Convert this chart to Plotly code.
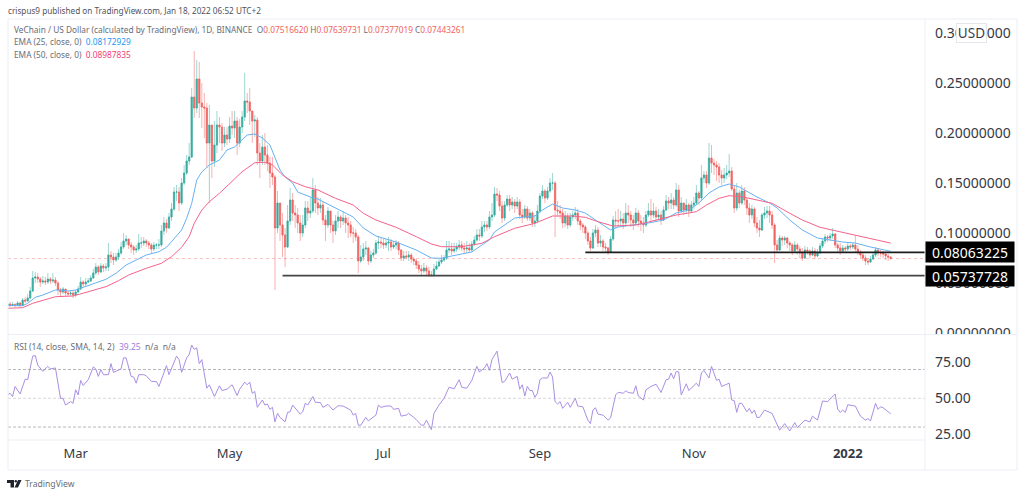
import numpy as np
import pandas as pd
import plotly.graph_objects as go
from plotly.subplots import make_subplots

# daily candles, Feb 2 2021 onwards, in thousandths of a USD
close_m = [
    29, 28, 28.5, 27.5, 30, 27.5, 33, 32, 35, 42,
    55, 56, 54, 51, 52, 51, 54, 52, 53, 50,
    43, 41, 44, 40, 39, 40, 38, 41, 44, 51,
    49, 51, 52, 55, 60, 66, 61, 67, 65, 66,
    78, 76, 73, 76, 80, 86, 92, 94, 88, 86,
    83, 84, 90, 90, 92, 90, 88, 84, 88, 88,
    88, 102, 110, 105, 116, 124, 141, 141, 130, 150,
    160, 172, 176, 236, 225, 254, 230, 226, 225, 190,
    208, 172, 188, 208, 206, 190, 198, 194, 207, 205,
    212, 190, 206, 216, 232, 231, 222, 212, 213, 180,
    172, 186, 178, 170, 160, 156, 105, 130, 108, 98,
    86, 112, 133, 120, 118, 110, 100, 108, 125, 120,
    122, 143, 130, 125, 128, 113, 108, 122, 108, 102,
    112, 116, 112, 115, 110, 108, 100, 100, 96, 72,
    76, 84, 85, 72, 78, 80, 90, 91, 90, 88,
    90, 91, 86, 88, 90, 83, 75, 77, 76, 78,
    74, 72, 68, 64, 62, 65, 62, 58, 58, 64,
    67, 71, 73, 75, 83, 84, 82, 84, 86, 88,
    85, 84, 85, 83, 89, 93, 98, 97, 106, 108,
    106, 116, 118, 139, 138, 127, 115, 128, 134, 128,
    131, 127, 131, 118, 116, 124, 115, 120, 110, 112,
    122, 137, 142, 135, 142, 150, 150, 123, 122, 120,
    110, 117, 108, 116, 118, 120, 112, 108, 106, 100,
    92, 85, 100, 103, 90, 92, 86, 85, 81, 94,
    113, 112, 112, 114, 110, 120, 118, 113, 110, 120,
    112, 110, 108, 118, 122, 118, 122, 116, 118, 113,
    123, 132, 130, 133, 128, 143, 122, 130, 123, 128,
    122, 128, 130, 140, 135, 155, 158, 150, 175, 170,
    168, 166, 158, 155, 158, 160, 162, 144, 125, 140,
    130, 142, 133, 125, 118, 124, 110, 105, 103, 118,
    120, 122, 118, 108, 88, 83, 95, 93, 95, 90,
    88, 82, 88, 84, 80, 75, 83, 82, 78, 82,
    77, 80, 87, 92, 96, 95, 97, 99, 88, 85,
    82, 85, 84, 87, 86, 88, 84, 81, 78, 75,
    72, 71, 74, 78, 83, 80, 80, 79, 77, 76,
    74.4,
]
high_m = [
    33, 31, 31, 30, 32, 31, 35, 36, 39, 46,
    62, 61, 60, 56, 57, 56, 60, 56, 60, 56,
    52, 45, 46, 44, 42, 42, 42, 43, 47, 56,
    53, 55, 55, 58, 64, 70, 68, 70, 69, 70,
    90, 82, 80, 80, 84, 91, 100, 98, 94, 91,
    88, 88, 99, 96, 96, 94, 92, 90, 91, 90,
    94, 108, 116, 114, 120, 130, 146, 148, 146, 155,
    168, 178, 190, 245, 282, 273, 271, 250, 240, 230,
    228, 205, 212, 222, 216, 210, 206, 206, 216, 222,
    222, 216, 214, 222, 260, 240, 245, 222, 218, 216,
    190, 198, 200, 188, 176, 176, 158, 142, 130, 120,
    105, 128, 145, 140, 128, 125, 118, 118, 132, 132,
    135, 155, 148, 136, 135, 132, 118, 126, 118, 112,
    118, 122, 118, 122, 118, 116, 112, 106, 104, 98,
    88, 90, 92, 86, 82, 84, 93, 97, 95, 94,
    94, 96, 94, 92, 93, 92, 84, 82, 82, 82,
    80, 76, 74, 72, 68, 70, 68, 66, 62, 69,
    72, 74, 78, 78, 92, 92, 90, 90, 90, 93,
    92, 90, 92, 90, 92, 97, 104, 104, 112, 112,
    112, 122, 130, 146, 145, 142, 132, 132, 138, 138,
    136, 134, 136, 134, 124, 128, 127, 124, 122, 118,
    128, 140, 148, 144, 146, 155, 160, 152, 132, 128,
    124, 122, 120, 120, 122, 126, 124, 114, 110, 108,
    102, 96, 104, 108, 106, 98, 94, 90, 86, 97,
    117, 122, 124, 122, 120, 130, 128, 122, 118, 125,
    123, 118, 116, 122, 130, 134, 130, 126, 124, 122,
    127, 138, 136, 140, 136, 150, 148, 136, 130, 134,
    130, 132, 136, 148, 142, 168, 162, 162, 190, 188,
    174, 172, 170, 163, 165, 168, 179, 166, 148, 150,
    143, 148, 146, 135, 130, 128, 126, 116, 113, 120,
    126, 127, 127, 122, 110, 93, 98, 97, 97, 96,
    92, 90, 92, 90, 87, 85, 87, 86, 84, 86,
    85, 84, 90, 95, 99, 98, 100, 105, 100, 90,
    90, 88, 87, 90, 89, 90, 98, 88, 83, 81,
    78, 75, 77, 81, 86, 85, 83, 82, 80, 79,
    76.4,
]
low_m = [
    26, 26, 27, 26, 27, 26, 27, 30, 31, 34,
    41, 50, 50, 46, 49, 48, 49, 49, 50, 47,
    38, 37, 39, 37, 37, 37, 35, 36, 40, 43,
    46, 47, 50, 51, 54, 58, 58, 60, 61, 62,
    62, 70, 68, 71, 73, 78, 84, 88, 84, 80,
    78, 80, 82, 85, 87, 86, 84, 80, 82, 84,
    84, 86, 98, 100, 104, 112, 122, 132, 122, 128,
    148, 158, 168, 175, 215, 220, 215, 205, 195, 165,
    130, 155, 166, 180, 190, 182, 186, 188, 190, 198,
    195, 178, 186, 200, 212, 220, 208, 190, 196, 168,
    155, 168, 168, 162, 145, 148, 43, 100, 92, 76,
    66, 85, 108, 112, 105, 100, 92, 96, 105, 112,
    115, 120, 120, 118, 120, 108, 92, 105, 100, 90,
    98, 105, 105, 108, 100, 95, 96, 90, 92, 60,
    70, 72, 78, 68, 70, 75, 78, 84, 85, 84,
    85, 82, 82, 84, 84, 78, 72, 72, 74, 72,
    70, 68, 64, 60, 58, 60, 58, 56, 56, 56,
    63, 66, 69, 71, 73, 80, 78, 80, 81, 83,
    82, 80, 80, 80, 81, 87, 91, 92, 95, 101,
    102, 104, 112, 116, 132, 122, 110, 112, 126, 122,
    124, 120, 124, 114, 110, 114, 112, 112, 106, 106,
    110, 120, 134, 130, 133, 140, 143, 96, 116, 114,
    105, 106, 104, 106, 112, 114, 108, 103, 100, 94,
    88, 82, 84, 96, 86, 86, 82, 80, 78, 80,
    92, 105, 106, 108, 104, 108, 110, 106, 103, 108,
    106, 102, 100, 106, 116, 112, 115, 112, 113, 108,
    112, 122, 124, 124, 124, 126, 116, 120, 118, 120,
    116, 120, 124, 128, 128, 132, 150, 145, 148, 160,
    158, 152, 150, 148, 150, 154, 156, 142, 120, 122,
    125, 128, 128, 118, 110, 114, 106, 100, 96, 102,
    114, 115, 110, 104, 70, 80, 82, 87, 88, 85,
    82, 78, 80, 78, 75, 72, 74, 78, 75, 77,
    74, 76, 79, 85, 89, 91, 92, 94, 85, 80,
    78, 80, 80, 82, 83, 84, 80, 78, 75, 72,
    68, 68, 70, 73, 76, 77, 76, 75, 73, 72,
    73.8,
]

# moving averages, read at the bends only (day number, thousandths of a USD)
ema25_days = [0, 6, 8, 11, 14, 16, 19, 22, 24, 27, 30, 33, 39, 43, 47, 51, 55, 60, 63, 65, 69, 71, 73, 75, 77, 80,
              84, 87, 90, 92, 95, 98, 101, 104, 106, 108, 110, 113, 115, 118, 121, 123, 129, 133, 137, 141, 146,
              154, 162, 168, 172, 176, 184, 188, 191, 193, 197, 201, 209, 212, 216, 220, 225, 229, 233, 237, 239,
              242, 249, 254, 260, 265, 270, 274, 278, 282, 286, 290, 297, 302, 305, 310, 315, 321, 326, 331, 336,
              342, 350]
ema25_m = [27.5, 27.3, 29.7, 35.7, 38, 40.3, 43, 43, 42, 43, 45.7, 49, 53.7, 59.7, 68, 73, 78, 81.3, 85.7, 91.3,
           103, 114.7, 129.7, 153, 161, 168, 173, 183, 186, 191, 198, 199, 195, 188, 176, 163, 156, 150, 141, 138,
           135, 134, 126, 121, 116, 105, 97, 91, 83, 75, 74.7, 77, 81, 88, 93, 101, 108, 115, 117, 123, 129, 125,
           123, 120, 113, 106, 103, 106, 108, 110, 113, 120, 123, 130, 140, 146, 149, 146, 136, 130, 125, 113,
           103, 95, 93, 91, 90, 86, 81.7]
ema50_days = [0, 6, 10, 14, 19, 26, 32, 39, 44, 48, 55, 61, 65, 69, 72, 74, 77, 80, 84, 89, 93, 98, 102, 105, 109,
              113, 118, 123, 130, 137, 141, 146, 154, 162, 168, 172, 180, 188, 193, 201, 209, 216, 224, 229, 234,
              240, 249, 254, 260, 265, 273, 277, 282, 286, 291, 298, 303, 310, 315, 322, 330, 336, 344, 350]
ema50_m = [24.7, 25.3, 29.7, 32.3, 36.3, 37, 41.3, 46.3, 52.3, 58, 64.7, 69.7, 76.3, 85.7, 96.3, 109.7, 123, 131.3,
           139.7, 151.3, 161.3, 170.3, 170.7, 168, 158, 151.3, 146.3, 143, 134.7, 128, 119.7, 113, 105.7, 96.3, 89,
           86.3, 86.3, 89.7, 96.3, 104.7, 109.7, 117, 117, 115.7, 111.3, 107, 108, 111, 114.7, 118, 121.3, 128,
           134.7, 137.3, 136.3, 132.3, 129.7, 119.7, 113, 105.7, 101.3, 98, 93, 89.9]

rsi_days = [0, 1, 2, 3, 5, 7, 8, 10, 11, 12, 14, 16, 17, 19, 21, 22, 23, 25, 26, 27, 28, 29, 30, 32, 34, 35, 36, 37,
            38, 40, 41, 42, 45, 46, 47, 49, 50, 51, 52, 54, 55, 57, 59, 60, 63, 64, 67, 68, 69, 71, 72, 73, 74, 75,
            76, 77, 79, 80, 82, 84, 85, 87, 89, 91, 92, 94, 95, 96, 97, 98, 99, 101, 102, 103, 104, 105, 106, 107,
            108, 110, 111, 112, 113, 116, 117, 118, 119, 121, 122, 124, 125, 127, 129, 131, 133, 135, 136, 137,
            138, 139, 140, 142, 143, 146, 147, 148, 150, 152, 153, 155, 156, 158, 159, 161, 162, 164, 165, 166,
            168, 169, 171, 173, 175, 177, 179, 180, 182, 184, 186, 187, 189, 190, 191, 192, 194, 196, 197, 199,
            200, 202, 203, 204, 205, 206, 207, 208, 209, 210, 211, 212, 214, 215, 216, 217, 218, 219, 220, 222,
            223, 225, 226, 228, 230, 231, 232, 233, 234, 236, 238, 239, 241, 242, 244, 245, 246, 248, 249, 250,
            252, 253, 255, 257, 259, 261, 262, 263, 264, 265, 266, 267, 269, 270, 273, 274, 275, 276, 278, 279,
            281, 282, 283, 286, 287, 288, 289, 290, 291, 293, 294, 295, 296, 297, 298, 300, 303, 306, 307, 308,
            310, 312, 313, 316, 318, 319, 321, 323, 325, 328, 329, 330, 331, 332, 333, 336, 338, 340, 341, 342,
            344, 345, 346, 347, 350]
rsi_vals = [52.3, 53.5, 51.2, 58.2, 53, 63.3, 62.9, 79.3, 79.7, 73, 68.7, 72.2, 70.4, 71.1, 50, 50, 45.3, 47.7, 46.5,
            55.9, 52.3, 62.4, 58.9, 62.9, 71.8, 70.4, 65.2, 69.9, 66.4, 66.4, 74.1, 68, 70.4, 78.1, 78.1, 65.2, 64.8,
            60.5, 66.4, 66.4, 65.7, 61.7, 61.7, 58.2, 72.7, 66.4, 79.3, 76.9, 68, 78.1, 80.4, 87, 84, 85.1, 74.1,
            76.9, 57, 59.4, 51.2, 58.7, 55.4, 56.3, 59.4, 51.9, 56.3, 61.2, 59.4, 61.2, 53.5, 54.7, 43.7, 48.8, 45.3,
            46, 42.3, 43.7, 33.6, 39.5, 36.7, 33.6, 40.2, 40.6, 45.3, 39, 40.6, 46.5, 45.3, 51.2, 47.2, 47, 43.7,
            45.8, 41.8, 44.8, 44.6, 43, 41.8, 38.3, 39.5, 31.3, 31.3, 36.7, 34.3, 38.3, 45.3, 43.7, 44.6, 44.6, 42.3,
            43, 37.6, 38.3, 39.5, 36.7, 35.2, 31.3, 31.3, 34.8, 28.2, 39.5, 45.3, 50, 57.7, 56.6, 62.9, 57.7, 57,
            62.4, 72.2, 68.3, 71.1, 74.1, 69.4, 76.9, 82.8, 61, 61.7, 67.6, 63.3, 65.2, 56.3, 59.4, 51.6, 58.2, 55.4,
            55.4, 50.7, 53.5, 62.9, 64.1, 64.1, 68.3, 64.8, 47.7, 46, 47.7, 43, 47.2, 43.7, 50, 44.6, 44.1, 34.8,
            32.4, 41.8, 43.4, 39, 38.3, 34.8, 36.4, 52.3, 54.2, 53.5, 55.2, 54, 53.5, 58.7, 51.6, 48.8, 55.9, 58.2,
            59.8, 54, 62.9, 63.3, 67.6, 63.6, 68.7, 68.3, 52.3, 60.1, 55.4, 60.5, 58.2, 67.6, 69.4, 64.1, 72.2, 62.4,
            63.3, 58.2, 60.5, 48.8, 48.4, 40.2, 46.5, 46.5, 40.6, 43, 39.5, 41.8, 36.7, 36.7, 41.8, 39.5, 27.8, 30.1,
            32.4, 27.3, 33.1, 29.6, 34.8, 33.6, 37.6, 34.8, 48.1, 47.7, 53, 42.5, 40.2, 41.8, 40.2, 45.5, 44.6, 37.6,
            34.8, 35.9, 34.3, 46.5, 42.3, 44.1, 43.4, 39.25]

price_ticks = [0, 0.05, 0.10, 0.15, 0.20, 0.25, 0.30]
rsi_ticks = [25, 50, 75]
rsi_levels = [70, 50, 30]
month_ticks = ["2021-03-01", "2021-05-01", "2021-07-01", "2021-09-01", "2021-11-01", "2022-01-01"]
month_labels = ["Mar", "May", "Jul", "Sep", "Nov", "<b>2022</b>"]
support_levels = [0.08063225, 0.05737728]
support_starts = ["2021-09-19", "2021-05-22"]
last_price = 0.07443261

FONT = "Noto Sans"
TEAL = "#35ab9f"
RED = "#f06360"
GREY = "#6a6d78"

assert len(close_m) == len(high_m) == len(low_m)
assert len(ema25_days) == len(ema25_m) and len(ema50_days) == len(ema50_m) and len(rsi_days) == len(rsi_vals)


def px_x(px):
    return (px - 8) / 917


def px_y(px):
    return (440 - px) / 421


start = pd.Timestamp("2021-02-02")
dates = pd.date_range(start, periods=len(close_m))
close = np.array(close_m) / 1000
high = np.array(high_m) / 1000
low = np.array(low_m) / 1000
open_ = np.concatenate([[0.0272], close[:-1]])

fig = make_subplots(rows=2, cols=1, shared_xaxes=True, vertical_spacing=0.002)

# wicks first (paler), then the bodies on their own so they stay solid
fig.add_trace(go.Candlestick(
    x=dates, open=open_, high=high, low=low, close=close,
    increasing=dict(line=dict(color="rgba(38,166,154,0.45)", width=1), fillcolor="rgba(0,0,0,0)"),
    decreasing=dict(line=dict(color="rgba(239,83,80,0.45)", width=1), fillcolor="rgba(0,0,0,0)"),
    whiskerwidth=0, showlegend=False, hoverinfo="skip",
), row=1, col=1)
fig.add_trace(go.Candlestick(
    x=dates, open=open_, close=close,
    high=np.maximum(open_, close), low=np.minimum(open_, close),
    increasing=dict(line=dict(color=TEAL, width=0.5), fillcolor=TEAL),
    decreasing=dict(line=dict(color=RED, width=0.5), fillcolor=RED),
    whiskerwidth=0, showlegend=False, hoverinfo="skip",
), row=1, col=1)

fig.add_trace(go.Scatter(x=start + pd.to_timedelta(ema25_days, unit="D"), y=np.array(ema25_m) / 1000,
                         mode="lines", line=dict(color="#66b1f2", width=1), showlegend=False, hoverinfo="skip"),
              row=1, col=1)
fig.add_trace(go.Scatter(x=start + pd.to_timedelta(ema50_days, unit="D"), y=np.array(ema50_m) / 1000,
                         mode="lines", line=dict(color="#f4638b", width=1), showlegend=False, hoverinfo="skip"),
              row=1, col=1)

x_end = start + pd.Timedelta(days=363.6)
for level, begin, colour in zip(support_levels, support_starts, ["#1c1c1c", "#454545"]):
    fig.add_trace(go.Scatter(x=[begin, x_end], y=[level, level], mode="lines",
                             line=dict(color=colour, width=1.6), showlegend=False, hoverinfo="skip"),
                  row=1, col=1)

fig.add_trace(go.Scatter(x=start + pd.to_timedelta(rsi_days, unit="D"), y=rsi_vals, mode="lines",
                         line=dict(color="#a98fe3", width=1), showlegend=False, hoverinfo="skip"),
              row=2, col=1)

shapes = []
# dotted last price line
shapes.append(dict(type="line", xref="paper", x0=0, x1=1, yref="y", y0=last_price, y1=last_price,
                   line=dict(color="rgba(239,83,80,0.45)", width=0.8, dash="dot"), layer="below"))
for level in rsi_levels:
    shapes.append(dict(type="line", xref="paper", x0=0, x1=1, yref="y2", y0=level, y1=level,
                       line=dict(color="#cfcfd3" if level == 50 else "#a3a5ab", width=0.8, dash="3px,2px"),
                       layer="below"))

# hides the bottom of the 0.00000000 label, it is cut by the pane in the original
shapes.append(dict(type="rect", xref="paper", yref="paper", x0=px_x(926), x1=px_x(1016), y0=px_y(341), y1=px_y(335),
                   fillcolor="white", line_width=0))

# frame around the panes
frame = "#eceef5"
for x0, y0, x1, y1 in [(8, 19, 1017, 19), (8, 470, 1017, 470), (8, 19, 8, 470), (1017, 19, 1017, 470),
                       (925, 19, 925, 470), (8, 334.5, 1017, 334.5), (8, 440, 925, 440)]:
    shapes.append(dict(type="line", xref="paper", yref="paper", x0=px_x(x0), x1=px_x(x1), y0=px_y(y0), y1=px_y(y1),
                       line=dict(color=frame, width=1)))

# TradingView logo at the bottom
logo = "#1e222d"
shapes.append(dict(type="rect", xref="paper", yref="paper", x0=px_x(7), x1=px_x(14), y0=px_y(483), y1=px_y(480),
                   fillcolor=logo, line_width=0))
shapes.append(dict(type="rect", xref="paper", yref="paper", x0=px_x(10.5), x1=px_x(14), y0=px_y(487.5), y1=px_y(483),
                   fillcolor=logo, line_width=0))
shapes.append(dict(type="circle", xref="paper", yref="paper", x0=px_x(14.6), x1=px_x(17), y0=px_y(482.5), y1=px_y(480),
                   fillcolor=logo, line_width=0))
vee = [(21.5, 480), (18, 480), (14.5, 487.5), (18, 487.5)]
shapes.append(dict(type="path", xref="paper", yref="paper", fillcolor=logo, line_width=0,
                   path="M" + " L".join(f"{px_x(a)},{px_y(b)}" for a, b in vee) + " Z"))


def text(px, py, s, size=8.3, colour=GREY):
    return dict(xref="paper", yref="paper", x=px_x(px), y=px_y(py), text=s, showarrow=False,
                xanchor="left", yanchor="middle", font=dict(family=FONT, size=size, color=colour))


def red(s):
    return f'<span style="color:{RED}">{s}</span>'


annotations = [
    text(6, 11, "crispus9 published on TradingView.com, Jan 18, 2022 06:52 UTC+2", 8.2, "#50535e"),
    text(12, 30, "VeChain / US Dollar (calculated by TradingView), 1D, BINANCE  "
         f"O{red('0.07516620')} H{red('0.07639731')} L{red('0.07377019')} C{red('0.07443261')}"),
    text(12, 42, 'EMA (25, close, 0)  <span style="color:#2196f3">0.08172929</span>'),
    text(12, 54, 'EMA (50, close, 0)  <span style="color:#f23e73">0.08987835</span>'),
    text(12, 346, 'RSI (14, close, SMA, 14, 2)  <span style="color:#9d80dc">39.25</span>  n/a  n/a', 8.5),
    text(23, 484, "TradingView", 8.6, "#6a6d78"),
    dict(xref="paper", yref="paper", x=px_x(971.5), y=px_y(33), xanchor="center", yanchor="middle", text="USD",
         showarrow=False, font=dict(family=FONT, size=13.5, color="#3a3d47"), bgcolor="white",
         bordercolor="#e4e6ec", borderwidth=1, width=27, height=16),
]
for level in support_levels:
    annotations.append(dict(xref="paper", yref="y", x=1, y=level, xanchor="left", yanchor="middle",
                            text=f"{level:.8f}", showarrow=False, bgcolor="black", width=86, height=18,
                            font=dict(family=FONT, size=14, color="white")))

fig.update_layout(
    width=1024, height=496, margin=dict(l=8, r=99, t=19, b=56),
    paper_bgcolor="white", plot_bgcolor="white", showlegend=False,
    shapes=shapes, annotations=annotations,
    font=dict(family=FONT, size=14, color="#363a45"),
)
fig.update_xaxes(range=[start + pd.Timedelta(days=0.2), x_end], rangeslider_visible=False,
                 showgrid=False, zeroline=False, showline=False, ticks="")
fig.update_xaxes(tickmode="array", tickvals=month_ticks, ticktext=month_labels, tickfont=dict(size=13),
                 ticklabelstandoff=4, row=2, col=1)
fig.update_yaxes(side="right", showgrid=False, zeroline=False, showline=False, ticks="", ticklabelstandoff=9)
fig.update_yaxes(domain=[px_y(334), 1], range=[-0.001, 0.314], tickmode="array", tickvals=price_ticks,
                 tickformat=".8f", row=1, col=1)
fig.update_yaxes(domain=[0, px_y(335)], range=[21, 94], tickmode="array", tickvals=rsi_ticks,
                 tickformat=".2f", row=2, col=1)

fig.write_html("out.html", config={"displayModeBar": False}, post_script="document.body.style.margin='0';")
